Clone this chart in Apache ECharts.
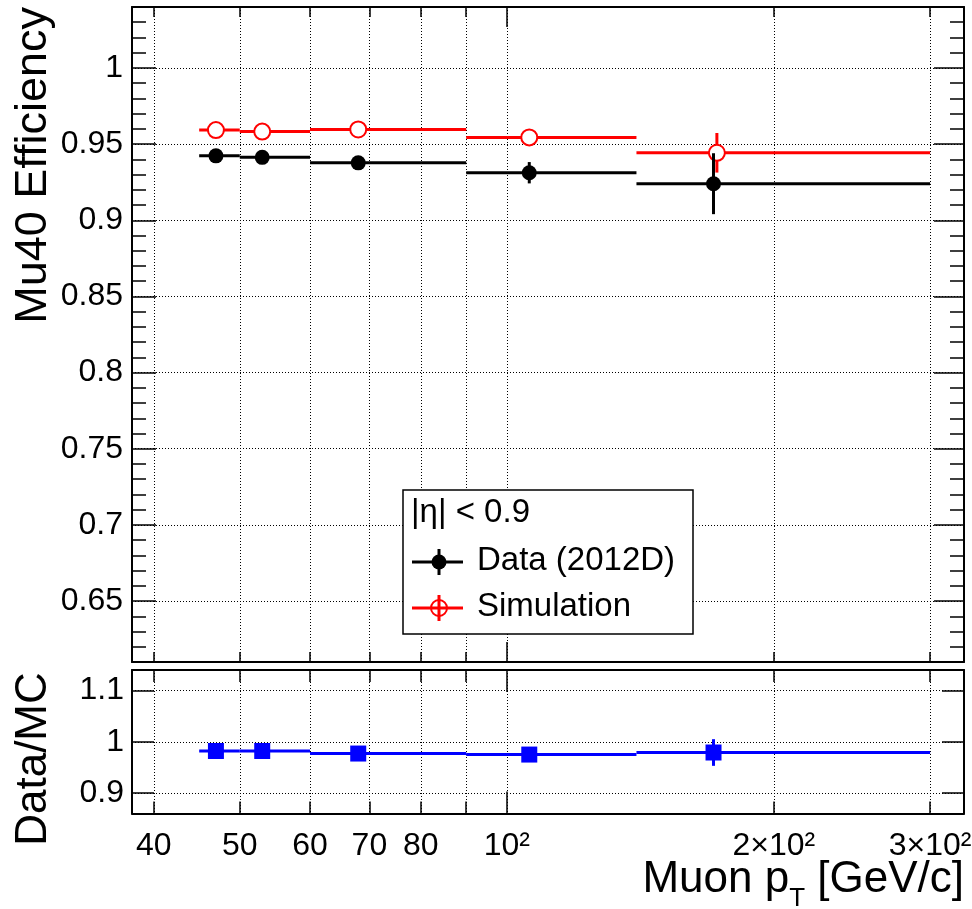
<!DOCTYPE html>
<html><head><meta charset="utf-8">
<script src="https://cdn.jsdelivr.net/npm/echarts@6/dist/echarts.min.js"></script>
<style>html,body{margin:0;padding:0;background:#fff}#c{width:972px;height:909px}</style>
</head><body><div id="c"></div>
<script>
// ---- data ----
const binLow  = [45, 50, 60, 90, 140];
const binHigh = [50, 60, 90, 140, 300];
const dataPt  = [47, 53, 68, 106, 171];
const mcPt    = [47, 53, 68, 106, 172.5];
const dataEff = [0.9423, 0.9413, 0.9377, 0.9312, 0.9240];
const dataErr = [0.002, 0.002, 0.002, 0.007, 0.020];
const mcEff   = [0.9592, 0.9582, 0.9596, 0.9544, 0.9443];
const mcErr   = [0.001, 0.001, 0.001, 0.002, 0.013];
const ratio    = [0.982, 0.982, 0.977, 0.975, 0.979];
const ratioErr = [0.003, 0.003, 0.003, 0.008, 0.026];

// ---- ticks ----
const xTickLabels  = [40, 50, 60, 70, 80, 100, 200, 300];
const xTickText    = ['40', '50', '60', '70', '80', '10\u00b2', '2\u00d710\u00b2', '3\u00d710\u00b2'];
const xShortTicks  = [40, 50, 60, 70, 80, 90, 200, 300];
const xLongTicks   = [100];
const xGridLines   = [40, 50, 60, 70, 80, 90, 100, 200, 300];
const effMajorTicks = [0.65, 0.7, 0.75, 0.8, 0.85, 0.9, 0.95, 1];
const ratioTicks    = [0.9, 1, 1.1];

const X_MIN = 37.8, X_MAX = 327.6;
const EFF_MIN = 0.61, EFF_MAX = 1.04;
const R_MIN = 0.86, R_MAX = 1.14;
const FONT = "'Liberation Sans', Arial, Helvetica, sans-serif";
const LBL = 32;
const dotted = {color: '#000', width: 1, type: [1, 2]};

function xAx(grid, pos, ticks, len, extra) {
  return Object.assign({
    type: 'log', logBase: 10, gridIndex: grid, position: pos, min: X_MIN, max: X_MAX,
    axisLine: {show: false, onZero: false, lineStyle: {color: '#000', width: 2}},
    axisTick: {show: true, inside: true, length: len, customValues: ticks, lineStyle: {color: '#000', width: 1.5}},
    axisLabel: {show: false},
    splitLine: {show: false}
  }, extra || {});
}
function xGridAx(grid) {
  return {
    type: 'log', logBase: 10, gridIndex: grid, position: 'bottom', min: X_MIN, max: X_MAX,
    axisLine: {show: false, onZero: false}, axisTick: {show: false, customValues: xGridLines},
    axisLabel: {show: false}, splitLine: {show: true, lineStyle: dotted}
  };
}
function yAx(grid, pos, min, max, len, extra) {
  return Object.assign({
    type: 'value', gridIndex: grid, position: pos, min: min, max: max,
    axisLine: {show: false, onZero: false, lineStyle: {color: '#000', width: 2}},
    axisTick: {show: true, inside: true, length: len, lineStyle: {color: '#000', width: 1.5}},
    axisLabel: {show: false},
    splitLine: {show: false}
  }, extra || {});
}

function xLabelFmt(v) {
  let best = 0, bd = Infinity;
  xTickLabels.forEach((t, i) => { const d = Math.abs(Math.log(t) - Math.log(v)); if (d < bd) { bd = d; best = i; } });
  return xTickText[best];
}

const frameLine = {show: true, onZero: false, lineStyle: {color: '#000', width: 2}};

const xAxes = [
  // top panel
  xAx(0, 'bottom', xShortTicks, 10, {axisLine: frameLine}),
  xAx(0, 'bottom', xLongTicks, 20),
  xAx(0, 'top', xShortTicks, 10, {axisLine: frameLine}),
  xAx(0, 'top', xLongTicks, 20),
  xGridAx(0),
  // ratio panel
  xAx(1, 'bottom', xShortTicks, 12, {axisLine: frameLine}),
  xAx(1, 'bottom', xLongTicks, 22),
  xAx(1, 'top', xShortTicks, 12, {axisLine: frameLine}),
  xAx(1, 'top', xLongTicks, 22),
  xGridAx(1),
  // label-only axis of the ratio panel
  {
    type: 'log', gridIndex: 1, position: 'bottom', min: X_MIN, max: X_MAX,
    axisLine: {show: false, onZero: false},
    axisTick: {show: false, customValues: xTickLabels},
    splitLine: {show: false},
    axisLabel: {customValues: xTickLabels, formatter: xLabelFmt, margin: 15,
      hideOverlap: false, showMinLabel: true, showMaxLabel: true,
      align: 'center', verticalAlign: 'top', lineHeight: 36, overflow: 'none',
      fontSize: LBL, fontFamily: FONT, color: '#000'}
  }
];

const yAxes = [
  yAx(0, 'left', EFF_MIN, EFF_MAX, 24, {
    axisLine: frameLine,
    axisTick: {show: true, inside: true, length: 24, customValues: effMajorTicks, lineStyle: {color: '#000', width: 1.5}},
    axisLabel: {show: true, customValues: effMajorTicks, margin: 9, fontSize: LBL, fontFamily: FONT, color: '#000'},
    splitLine: {show: true, lineStyle: dotted}
  }),
  yAx(0, 'left', EFF_MIN, EFF_MAX, 14, {interval: 0.01}),
  yAx(0, 'right', EFF_MIN, EFF_MAX, 30, {
    axisLine: frameLine,
    axisTick: {show: true, inside: true, length: 30, customValues: effMajorTicks, lineStyle: {color: '#000', width: 1.5}}
  }),
  yAx(0, 'right', EFF_MIN, EFF_MAX, 14, {interval: 0.01}),
  yAx(1, 'left', R_MIN, R_MAX, 22, {
    axisLine: frameLine,
    axisTick: {show: true, inside: true, length: 22, customValues: ratioTicks, lineStyle: {color: '#000', width: 1.5}},
    axisLabel: {show: true, customValues: ratioTicks, margin: 8, fontSize: LBL, fontFamily: FONT, color: '#000'},
    splitLine: {show: true, lineStyle: dotted}
  }),
  yAx(1, 'right', R_MIN, R_MAX, 22, {
    axisLine: frameLine,
    axisTick: {show: true, inside: true, length: 22, customValues: ratioTicks, lineStyle: {color: '#000', width: 1.5}}
  })
];

function buildData(pt, val, err) {
  return binLow.map((lo, i) => [pt[i], val[i], lo, binHigh[i], err[i]]);
}

function errSeries(name, xi, yi, data, color, marker) {
  return {
    type: 'custom', name: name, xAxisIndex: xi, yAxisIndex: yi, data: data,
    encode: {x: 0, y: 1}, clip: false, z: marker === 'open' ? 3 : 4,
    renderItem: function (params, api) {
      const x = api.value(0), y = api.value(1), lo = api.value(2), hi = api.value(3), e = api.value(4);
      const a = api.coord([lo, y]), b = api.coord([hi, y]), c = api.coord([x, y]);
      const t = api.coord([x, y + e]), d = api.coord([x, y - e]);
      const kids = [
        {type: 'line', shape: {x1: a[0], y1: a[1], x2: b[0], y2: b[1]}, style: {stroke: color, lineWidth: 3}},
        {type: 'line', shape: {x1: t[0], y1: t[1], x2: d[0], y2: d[1]}, style: {stroke: color, lineWidth: 3}}
      ];
      if (marker === 'open') {
        kids.push({type: 'circle', shape: {cx: c[0], cy: c[1], r: 8}, style: {fill: '#fff', stroke: color, lineWidth: 2}});
      } else if (marker === 'square') {
        kids.push({type: 'rect', shape: {x: c[0] - 8, y: c[1] - 8, width: 16, height: 16}, style: {fill: color}});
      } else {
        kids.push({type: 'circle', shape: {cx: c[0], cy: c[1], r: 7.5}, style: {fill: color}});
      }
      return {type: 'group', children: kids};
    }
  };
}

// measure pieces of the x-axis title (plain text pieces, subscript T)
const mctx = document.createElement('canvas').getContext('2d');
mctx.font = '44px ' + FONT;
const wUnit = mctx.measureText(' [GeV/c]').width;
mctx.font = '26px ' + FONT;
const wSub = mctx.measureText('T').width;
const TITLE_RIGHT = 964;

const G = 1; // separate canvas layer for decorations
const chart = echarts.init(document.getElementById('c'), null, {renderer: 'canvas'});
chart.setOption({
  animation: false,
  backgroundColor: '#fff',
  textStyle: {fontFamily: FONT},
  grid: [
    {left: 132, right: 8, top: 7, height: 655, outerBoundsMode: 'none', containLabel: false},
    {left: 132, right: 8, top: 670, height: 143.5, outerBoundsMode: 'none', containLabel: false}
  ],
  xAxis: xAxes,
  yAxis: yAxes,
  series: [
    errSeries('Simulation', 0, 0, buildData(mcPt, mcEff, mcErr), '#ff0000', 'open'),
    errSeries('Data (2012D)', 0, 0, buildData(dataPt, dataEff, dataErr), '#000000', 'filled'),
    errSeries('Data/MC', 5, 4, buildData(dataPt, ratio, ratioErr), '#0000ff', 'square')
  ],
  graphic: [
    {type: 'text', zlevel: G, x: 34, y: 7, rotation: Math.PI / 2, z: 100,
     style: {text: 'Mu40 Efficiency', fontSize: 45, fontFamily: FONT, fill: '#000', align: 'right', verticalAlign: 'middle'}},
    {type: 'text', zlevel: G, x: 34, y: 759, rotation: Math.PI / 2, z: 100,
     style: {text: 'Data/MC', fontSize: 44, fontFamily: FONT, fill: '#000', align: 'center', verticalAlign: 'middle'}},
    {type: 'text', zlevel: G, x: TITLE_RIGHT, y: 880, z: 100,
     style: {text: ' [GeV/c]', fontSize: 44, fontFamily: FONT, fill: '#000', align: 'right', verticalAlign: 'middle'}},
    {type: 'text', zlevel: G, x: TITLE_RIGHT - wUnit, y: 899, z: 100,
     style: {text: 'T', fontSize: 26, fontFamily: FONT, fill: '#000', align: 'right', verticalAlign: 'middle'}},
    {type: 'text', zlevel: G, x: TITLE_RIGHT - wUnit - wSub, y: 880, z: 100,
     style: {text: 'Muon p', fontSize: 44, fontFamily: FONT, fill: '#000', align: 'right', verticalAlign: 'middle'}},
    // legend
    {type: 'rect', zlevel: G, z: 100, shape: {x: 403, y: 490, width: 290, height: 144},
     style: {fill: '#fff', stroke: '#000', lineWidth: 1.5}},
    {type: 'text', zlevel: G, z: 101, x: 411, y: 513,
     style: {text: '|\u03b7| < 0.9', fontSize: 33, fontFamily: FONT, fill: '#000', verticalAlign: 'middle'}},
    {type: 'line', zlevel: G, z: 101, shape: {x1: 412, y1: 562, x2: 463, y2: 562}, style: {stroke: '#000', lineWidth: 3}},
    {type: 'line', zlevel: G, z: 101, shape: {x1: 439, y1: 549, x2: 439, y2: 575}, style: {stroke: '#000', lineWidth: 3}},
    {type: 'circle', zlevel: G, z: 102, shape: {cx: 439, cy: 562, r: 7.5}, style: {fill: '#000'}},
    {type: 'text', zlevel: G, z: 101, x: 477, y: 561,
     style: {text: 'Data (2012D)', fontSize: 33, fontFamily: FONT, fill: '#000', verticalAlign: 'middle'}},
    {type: 'line', zlevel: G, z: 101, shape: {x1: 412, y1: 608, x2: 463, y2: 608}, style: {stroke: '#ff0000', lineWidth: 3}},
    {type: 'line', zlevel: G, z: 101, shape: {x1: 439, y1: 595, x2: 439, y2: 621}, style: {stroke: '#ff0000', lineWidth: 3}},
    {type: 'circle', zlevel: G, z: 102, shape: {cx: 439, cy: 608, r: 8}, style: {fill: 'none', stroke: '#ff0000', lineWidth: 2}},
    {type: 'text', zlevel: G, z: 101, x: 477, y: 607,
     style: {text: 'Simulation', fontSize: 33, fontFamily: FONT, fill: '#000', verticalAlign: 'middle'}}
  ]
});
</script>
</body></html>
